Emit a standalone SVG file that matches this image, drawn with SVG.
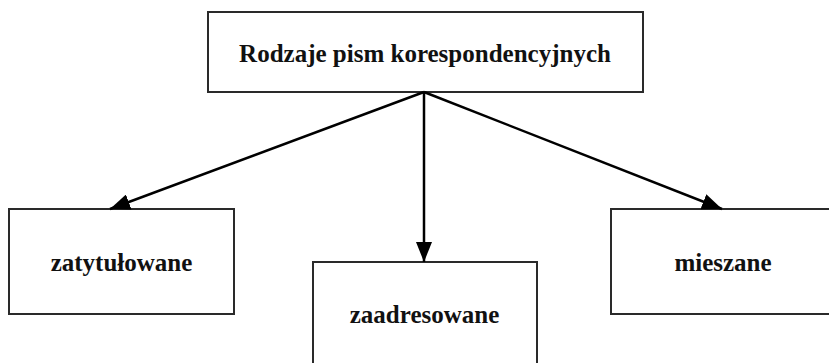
<svg xmlns="http://www.w3.org/2000/svg" width="829" height="363" viewBox="0 0 829 363">
  <style>
    .box { fill: #ffffff; stroke: #2a2a2a; stroke-width: 2; }
    .label { font-family: "Liberation Serif", "Times New Roman", serif; font-weight: bold; font-size: 25px; fill: #111111; text-anchor: middle; }
    .link { stroke: #000000; stroke-width: 2.5; fill: none; marker-end: url(#head); }
  </style>
  <defs>
    <marker id="head" markerUnits="userSpaceOnUse" markerWidth="20" markerHeight="16" refX="20" refY="8" orient="auto" viewBox="0 0 20 16">
      <path d="M0,0 L20,8 L0,16 z" fill="#000000"/>
    </marker>
  </defs>
  <rect width="829" height="363" fill="#ffffff"/>

  <g id="node-root">
    <rect class="box" x="208" y="12" width="435" height="80"/>
    <text class="label" x="425" y="62">Rodzaje pism korespondencyjnych</text>
  </g>

  <g id="node-zatytulowane">
    <rect class="box" x="9" y="209" width="225" height="105"/>
    <text class="label" x="121.5" y="271">zatytułowane</text>
  </g>

  <g id="node-zaadresowane">
    <rect class="box" x="313" y="262" width="224" height="110"/>
    <text class="label" x="424.5" y="323">zaadresowane</text>
  </g>

  <g id="node-mieszane">
    <rect class="box" x="611" y="209" width="230" height="105"/>
    <text class="label" x="723" y="271">mieszane</text>
  </g>

  <g id="connectors">
    <line class="link" x1="424" y1="92" x2="110" y2="209"/>
    <line class="link" x1="424" y1="92" x2="424" y2="262"/>
    <line class="link" x1="424" y1="92" x2="722" y2="209"/>
  </g>
</svg>
